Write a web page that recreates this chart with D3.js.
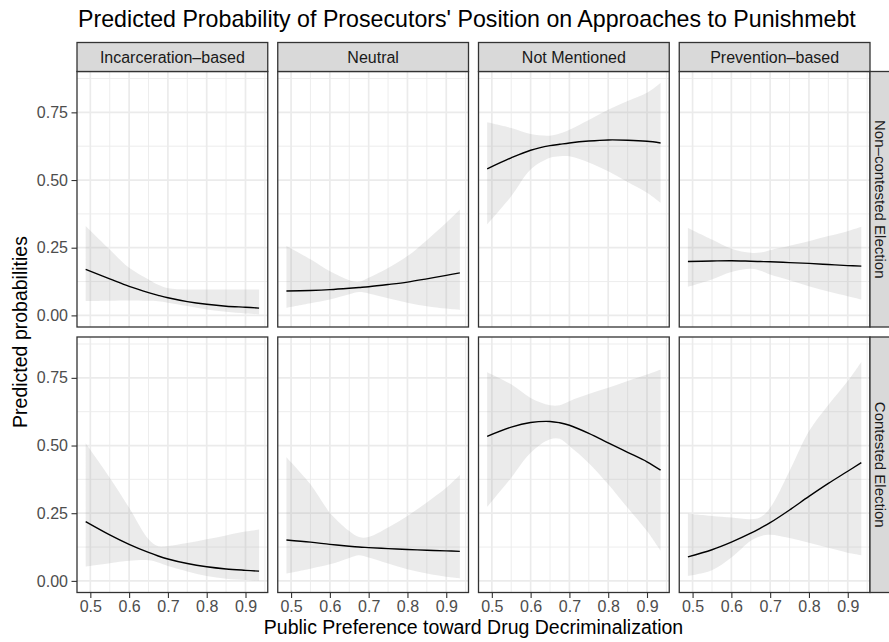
<!DOCTYPE html>
<html>
<head>
<meta charset="utf-8">
<script src="https://cdn.jsdelivr.net/npm/d3@7"></script>
<style>
  html, body { margin: 0; padding: 0; background: #fff; }
  svg { display: block; font-family: "Liberation Sans", Arial, Helvetica, sans-serif; }
</style>
</head>
<body>
<svg id="chart" width="889" height="642"></svg>
<script>
// ---------------- DATA ----------------
const titleText = "Predicted Probability of Prosecutors' Position on Approaches to Punishmebt";
const xTitle = "Public Preference toward Drug Decriminalization";
const yTitle = "Predicted probabilities";
const positions = ["Incarceration–based", "Neutral", "Not Mentioned", "Prevention–based"];
const elections = ["Non–contested Election", "Contested Election"];
const xTicks = [0.5, 0.6, 0.7, 0.8, 0.9];
const yTicks = [0, 0.25, 0.5, 0.75];

// common x grid (public preference)
const xs = [0.488, 0.55, 0.6, 0.65, 0.675, 0.7, 0.75, 0.8, 0.85, 0.9, 0.935];

// Non-contested election
const incarcNonFit = [0.170, 0.135, 0.107, 0.084, 0.074, 0.065, 0.051, 0.041, 0.034, 0.030, 0.027];
const incarcNonLow = [0.053, 0.054, 0.055, 0.054, 0.052, 0.047, 0.035, 0.022, 0.013, 0.007, 0.004];
const incarcNonUp  = [0.330, 0.243, 0.176, 0.133, 0.113, 0.100, 0.096, 0.096, 0.096, 0.096, 0.096];

const neutralNonFit = [0.090, 0.092, 0.095, 0.100, 0.103, 0.106, 0.114, 0.123, 0.135, 0.148, 0.157];
const neutralNonLow = [0.028, 0.045, 0.059, 0.078, 0.086, 0.081, 0.063, 0.047, 0.034, 0.025, 0.020];
const neutralNonUp  = [0.256, 0.207, 0.163, 0.130, 0.124, 0.139, 0.175, 0.219, 0.278, 0.342, 0.391];

const notMentNonFit = [0.541, 0.582, 0.610, 0.627, 0.632, 0.637, 0.644, 0.648, 0.647, 0.643, 0.637];
const notMentNonLow = [0.336, 0.440, 0.539, 0.582, 0.588, 0.588, 0.565, 0.532, 0.493, 0.453, 0.416];
const notMentNonUp  = [0.713, 0.692, 0.670, 0.664, 0.672, 0.686, 0.722, 0.760, 0.792, 0.822, 0.858];

const preventNonFit = [0.199, 0.201, 0.202, 0.200, 0.199, 0.198, 0.195, 0.192, 0.188, 0.184, 0.182];
const preventNonLow = [0.106, 0.133, 0.160, 0.172, 0.165, 0.151, 0.130, 0.108, 0.088, 0.071, 0.059];
const preventNonUp  = [0.323, 0.280, 0.246, 0.231, 0.232, 0.241, 0.257, 0.274, 0.293, 0.311, 0.327];

// Contested election
const incarcConFit = [0.219, 0.170, 0.135, 0.105, 0.092, 0.081, 0.064, 0.052, 0.044, 0.039, 0.036];
const incarcConLow = [0.053, 0.065, 0.074, 0.076, 0.068, 0.055, 0.035, 0.018, 0.008, 0.003, 0.000];
const incarcConUp  = [0.508, 0.381, 0.270, 0.154, 0.128, 0.129, 0.140, 0.154, 0.168, 0.182, 0.190];

const neutralConFit = [0.151, 0.143, 0.135, 0.128, 0.125, 0.123, 0.119, 0.116, 0.113, 0.111, 0.109];
const neutralConLow = [0.027, 0.045, 0.061, 0.085, 0.095, 0.086, 0.064, 0.043, 0.027, 0.015, 0.009];
const neutralConUp  = [0.457, 0.357, 0.252, 0.184, 0.162, 0.162, 0.197, 0.240, 0.290, 0.344, 0.391];

const notMentConFit = [0.534, 0.568, 0.585, 0.589, 0.584, 0.575, 0.545, 0.510, 0.475, 0.440, 0.409];
const notMentConLow = [0.273, 0.381, 0.473, 0.523, 0.525, 0.498, 0.435, 0.357, 0.270, 0.184, 0.111];
const notMentConUp  = [0.771, 0.726, 0.676, 0.649, 0.649, 0.664, 0.690, 0.713, 0.738, 0.762, 0.781];

const preventConFit = [0.0885, 0.115, 0.143, 0.176, 0.195, 0.215, 0.262, 0.312, 0.360, 0.405, 0.437];
const preventConLow = [0.018, 0.039, 0.086, 0.148, 0.165, 0.170, 0.158, 0.141, 0.122, 0.104, 0.095];
const preventConUp  = [0.248, 0.240, 0.234, 0.228, 0.235, 0.270, 0.406, 0.553, 0.650, 0.738, 0.809];

// ---------------- BUILD ----------------
const panels = [
  [ [incarcNonFit, incarcNonLow, incarcNonUp], [neutralNonFit, neutralNonLow, neutralNonUp],
    [notMentNonFit, notMentNonLow, notMentNonUp], [preventNonFit, preventNonLow, preventNonUp] ],
  [ [incarcConFit, incarcConLow, incarcConUp], [neutralConFit, neutralConLow, neutralConUp],
    [notMentConFit, notMentConLow, notMentConUp], [preventConFit, preventConLow, preventConUp] ]
];

const svg = d3.select("#chart");
const L = 77, R = 870, T = 71.5, B = 592.5, gap = 10, stripH = 29;
const pw = (R - L - 3 * gap) / 4;
const ph = (B - T - gap) / 2;

function expand(ext) { const d = ext[1] - ext[0]; return [ext[0] - 0.05 * d, ext[1] + 0.05 * d]; }

const x = d3.scaleLinear().domain(expand(d3.extent(xs))).range([0, pw]);
const allY = panels.flat().flatMap(p => p[1].concat(p[2]));
const y = d3.scaleLinear().domain(expand(d3.extent(allY))).range([ph, 0]);

const xMinor = [0.45, 0.55, 0.65, 0.75, 0.85, 0.95].filter(v => v >= x.domain()[0] && v <= x.domain()[1]);
const yMinor = [0.125, 0.375, 0.625, 0.875].filter(v => v >= y.domain()[0] && v <= y.domain()[1]);

const area = d3.area().curve(d3.curveCatmullRom.alpha(0.5))
  .x(d => x(d.x)).y0(d => y(d.lo)).y1(d => y(d.hi));
const line = d3.line().curve(d3.curveCatmullRom.alpha(0.5))
  .x(d => x(d.x)).y(d => y(d.fit));

const textCol = "#1A1A1A";
const tickCol = "#4D4D4D";
const lineCol = "#333333";
const tickFont = "16px";
const stripFont = "16px";

for (let r = 0; r < 2; r++) {
  for (let c = 0; c < 4; c++) {
    const px = L + c * (pw + gap);
    const py = T + r * (ph + gap);
    const g = svg.append("g").attr("transform", `translate(${px},${py})`);
    const [fit, lo, hi] = panels[r][c];
    const rows = xs.map((xv, i) => ({ x: xv, fit: fit[i], lo: lo[i], hi: hi[i] }));

    g.append("rect").attr("width", pw).attr("height", ph).attr("fill", "#fff");
    g.selectAll(".vmin").data(xMinor).enter().append("line")
      .attr("x1", d => x(d)).attr("x2", d => x(d)).attr("y1", 0).attr("y2", ph)
      .attr("stroke", "#EBEBEB").attr("stroke-width", 0.9);
    g.selectAll(".hmin").data(yMinor).enter().append("line")
      .attr("y1", d => y(d)).attr("y2", d => y(d)).attr("x1", 0).attr("x2", pw)
      .attr("stroke", "#EBEBEB").attr("stroke-width", 0.9);
    g.selectAll(".vmaj").data(xTicks).enter().append("line")
      .attr("x1", d => x(d)).attr("x2", d => x(d)).attr("y1", 0).attr("y2", ph)
      .attr("stroke", "#EBEBEB").attr("stroke-width", 1.7);
    g.selectAll(".hmaj").data(yTicks).enter().append("line")
      .attr("y1", d => y(d)).attr("y2", d => y(d)).attr("x1", 0).attr("x2", pw)
      .attr("stroke", "#EBEBEB").attr("stroke-width", 1.7);

    g.append("path").datum(rows).attr("d", area)
      .attr("fill", "#999999").attr("fill-opacity", 0.2);
    g.append("path").datum(rows).attr("d", line)
      .attr("fill", "none").attr("stroke", "#000").attr("stroke-width", 1.4);

    g.append("rect").attr("width", pw).attr("height", ph)
      .attr("fill", "none").attr("stroke", lineCol).attr("stroke-width", 1.3);

    if (c === 0) {
      const ax = g.append("g").call(d3.axisLeft(y).tickValues(yTicks).tickFormat(d3.format(".2f"))
        .tickSize(5.5).tickSizeOuter(0).tickPadding(3.5));
      ax.select(".domain").remove();
      ax.selectAll("line").attr("stroke", lineCol).attr("stroke-width", 1.1);
      ax.selectAll("text").attr("fill", tickCol).style("font-size", tickFont)
        .style("font-family", '"Liberation Sans", Arial, sans-serif');
    }
    if (r === 1) {
      const ax = g.append("g").attr("transform", `translate(0,${ph})`)
        .call(d3.axisBottom(x).tickValues(xTicks).tickFormat(d3.format(".1f"))
        .tickSize(5.5).tickSizeOuter(0).tickPadding(2.5));
      ax.select(".domain").remove();
      ax.selectAll("line").attr("stroke", lineCol).attr("stroke-width", 1.1);
      ax.selectAll("text").attr("fill", tickCol).style("font-size", tickFont)
        .style("font-family", '"Liberation Sans", Arial, sans-serif');
    }
    if (r === 0) {
      const s = svg.append("g").attr("transform", `translate(${px},${T - stripH})`);
      s.append("rect").attr("width", pw).attr("height", stripH)
        .attr("fill", "#D9D9D9").attr("stroke", lineCol).attr("stroke-width", 1.3);
      s.append("text").attr("x", pw / 2).attr("y", stripH / 2).attr("dy", "0.35em")
        .attr("text-anchor", "middle").attr("fill", textCol).style("font-size", stripFont)
        .text(positions[c]);
    }
    if (c === 3) {
      const s = svg.append("g").attr("transform", `translate(${R},${py})`);
      s.append("rect").attr("width", stripH).attr("height", ph)
        .attr("fill", "#D9D9D9").attr("stroke", lineCol).attr("stroke-width", 1.3);
      s.append("text").attr("transform", `translate(10.5,${ph / 2}) rotate(90)`)
        .attr("dy", "0.35em").attr("text-anchor", "middle").attr("fill", textCol)
        .style("font-size", "15px").text(elections[r]);
    }
  }
}

// titles
svg.append("text").attr("x", 78).attr("y", 27).attr("fill", "#000")
  .style("font-size", "23.2px").text(titleText);
svg.append("text").attr("x", (L + R) / 2).attr("y", 634).attr("text-anchor", "middle")
  .attr("fill", "#000").style("font-size", "19.5px").text(xTitle);
svg.append("text").attr("transform", `translate(27,${(T + B) / 2}) rotate(-90)`)
  .attr("text-anchor", "middle").attr("fill", "#000").style("font-size", "19.5px").text(yTitle);
</script>
</body>
</html>
